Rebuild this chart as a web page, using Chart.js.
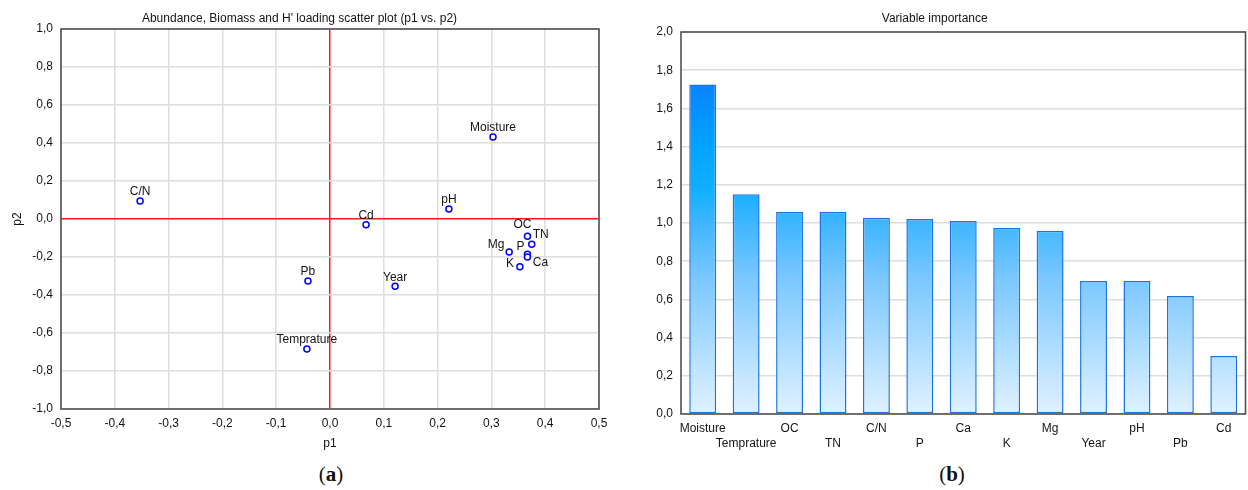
<!DOCTYPE html>
<html>
<head>
<meta charset="utf-8">
<script src="https://cdn.jsdelivr.net/npm/chart.js@4"></script>
<style>
    body { margin: 0; background: #fff; width: 1248px; height: 490px; position: relative; overflow: hidden; }
    .box { position: absolute; top: 0; height: 460px; }
    #left { left: 0; width: 620px; }
    #right { left: 624px; width: 624px; }
    .cap { position: absolute; top: 462px; font-family: "Liberation Serif", "DejaVu Serif", serif; font-size: 21px; color: #111; transform: translateX(-50%); }
    .cap b { font-weight: bold; }
</style>
</head>
<body>
<div class="box" id="left"><canvas id="scatterChart"></canvas></div>
<div class="box" id="right"><canvas id="barChart"></canvas></div>
<div class="cap" style="left:331px">(<b>a</b>)</div>
<div class="cap" style="left:952px">(<b>b</b>)</div>

<script>
// Loading scatter (p1 vs. p2)
const varNames = ['Moisture', 'Temprature', 'OC', 'TN', 'C/N', 'P', 'Ca', 'K', 'Mg', 'Year', 'pH', 'Pb', 'Cd'];
const p1Values = [0.303, -0.043, 0.367, 0.375, -0.353, 0.367, 0.367, 0.353, 0.333, 0.121, 0.221, -0.041, 0.067];
const p2Values = [0.432, -0.684, -0.091, -0.133, 0.095, -0.185, -0.200, -0.251, -0.174, -0.354, 0.053, -0.326, -0.030];

// Variable importance bars
const importanceLabels = ['Moisture', 'Temprature', 'OC', 'TN', 'C/N', 'P', 'Ca', 'K', 'Mg', 'Year', 'pH', 'Pb', 'Cd'];
const importanceValues = [1.725, 1.150, 1.058, 1.058, 1.028, 1.021, 1.010, 0.974, 0.960, 0.696, 0.696, 0.618, 0.304];

// label nudges (pixels) for crowded points
const labelNudge = {
    'OC': [-5, -12], 'TN': [9, -10], 'Mg': [-13, -7], 'P': [-7, -7],
    'Ca': [13, 6], 'K': [-10, -3]
};

const FONT = '"Liberation Sans", Arial, sans-serif';
const TEXT = '#141414';
const GRID = '#dedede';

function commaTick(v) {
    if (Math.abs(v) < 1e-9) return '0,0';
    return v.toFixed(1).replace('.', ',');
}

// closed frame around the plot area
const framePlugin = {
    id: 'frame',
    afterDraw(chart) {
        const { ctx, chartArea: a } = chart;
        ctx.save();
        ctx.strokeStyle = '#505050';
        ctx.lineWidth = 1.6;
        ctx.strokeRect(a.left, a.top, a.right - a.left, a.bottom - a.top);
        ctx.restore();
    }
};

const pointLabels = {
    id: 'pointLabels',
    afterDatasetsDraw(chart) {
        const { ctx } = chart;
        const meta = chart.getDatasetMeta(0);
        ctx.save();
        ctx.font = '12px ' + FONT;
        ctx.fillStyle = TEXT;
        ctx.textAlign = 'center';
        ctx.textBaseline = 'middle';
        meta.data.forEach((pt, i) => {
            const name = varNames[i];
            const n = labelNudge[name] || [0, -9];
            ctx.fillText(name, pt.x + n[0], pt.y + n[1]);
        });
        ctx.restore();
    }
};

function zeroColor(c) {
    return Math.abs(c.tick.value) < 1e-9 ? '#ff1a1a' : GRID;
}

function buildScatter() {
    const points = p1Values.map((x, i) => ({ x: x, y: p2Values[i] }));
    new Chart(document.getElementById('scatterChart'), {
        type: 'scatter',
        data: {
            datasets: [{
                data: points,
                pointRadius: 3,
                pointBorderWidth: 1.5,
                pointBorderColor: '#0000ff',
                pointBackgroundColor: '#fff'
            }]
        },
        options: {
            responsive: true,
            maintainAspectRatio: false,
            animation: false,
            layout: { padding: { right: 21 } },
            plugins: {
                legend: { display: false },
                tooltip: { enabled: false },
                title: {
                    display: true,
                    text: "Abundance, Biomass and H' loading scatter plot (p1 vs. p2)",
                    color: TEXT,
                    font: { family: FONT, size: 12, weight: 'normal' },
                    padding: { top: 11, bottom: 3.6 }
                }
            },
            scales: {
                x: {
                    min: -0.5, max: 0.5,
                    ticks: { stepSize: 0.1, callback: commaTick, color: TEXT, padding: 7, font: { family: FONT, size: 12 }, maxRotation: 0 },
                    grid: { drawTicks: false, color: zeroColor, lineWidth: 1.5 },
                    border: { display: false },
                    title: { display: true, text: 'p1', color: TEXT, font: { family: FONT, size: 12 }, padding: { bottom: 8.8 } },
                    afterFit(scale) { scale.height = 51; }
                },
                y: {
                    min: -1, max: 1,
                    ticks: { stepSize: 0.2, callback: commaTick, color: TEXT, padding: 8, font: { family: FONT, size: 12 } },
                    grid: { drawTicks: false, color: zeroColor, lineWidth: 1.5 },
                    border: { display: false },
                    title: { display: true, text: 'p2', color: TEXT, font: { family: FONT, size: 12 }, padding: { top: 10 } },
                    afterFit(scale) { scale.width = 61; }
                }
            }
        },
        plugins: [framePlugin, pointLabels]
    });
}

function barGradient(context) {
    const { chart } = context;
    const a = chart.chartArea;
    if (!a) return '#7ac9ff';
    const g = chart.ctx.createLinearGradient(0, a.bottom, 0, a.top);
    g.addColorStop(0.0, '#e0f1ff');
    g.addColorStop(0.15, '#b4e0ff');
    g.addColorStop(0.35, '#7cc8ff');
    g.addColorStop(0.5, '#3fb6ff');
    g.addColorStop(0.58, '#14b0ff');
    g.addColorStop(0.7, '#00a4ff');
    g.addColorStop(0.87, '#0a82ff');
    g.addColorStop(1.0, '#0062e6');
    return g;
}

function buildBars() {
    // stagger the category labels onto two rows
    const staggered = importanceLabels.map((l, i) => i % 2 === 0 ? l : ['', l]);
    new Chart(document.getElementById('barChart'), {
        type: 'bar',
        data: {
            labels: staggered,
            datasets: [{
                data: importanceValues,
                backgroundColor: barGradient,
                borderColor: '#1b74e4',
                borderWidth: 1.5,
                borderSkipped: false,
                categoryPercentage: 1,
                barPercentage: 0.62
            }]
        },
        options: {
            responsive: true,
            maintainAspectRatio: false,
            animation: false,
            layout: { padding: { right: 2.5 } },
            plugins: {
                legend: { display: false },
                tooltip: { enabled: false },
                title: {
                    display: true,
                    text: 'Variable importance',
                    color: TEXT,
                    font: { family: FONT, size: 12, weight: 'normal' },
                    padding: { top: 11, bottom: 6.6 }
                }
            },
            scales: {
                x: {
                    ticks: { color: TEXT, padding: 7, autoSkip: false, maxRotation: 0, font: { family: FONT, size: 12, lineHeight: 1.25 } },
                    grid: { display: false, drawTicks: false },
                    border: { display: false },
                    afterFit(scale) { scale.height = 46; }
                },
                y: {
                    min: 0, max: 2,
                    ticks: { stepSize: 0.2, callback: commaTick, color: TEXT, padding: 8, font: { family: FONT, size: 12 } },
                    grid: { drawTicks: false, color: GRID, lineWidth: 1.5 },
                    border: { display: false },
                    afterFit(scale) { scale.width = 57; }
                }
            }
        },
        plugins: [framePlugin]
    });
}

document.addEventListener('DOMContentLoaded', () => {
    buildScatter();
    buildBars();
});
</script>
</body>
</html>
